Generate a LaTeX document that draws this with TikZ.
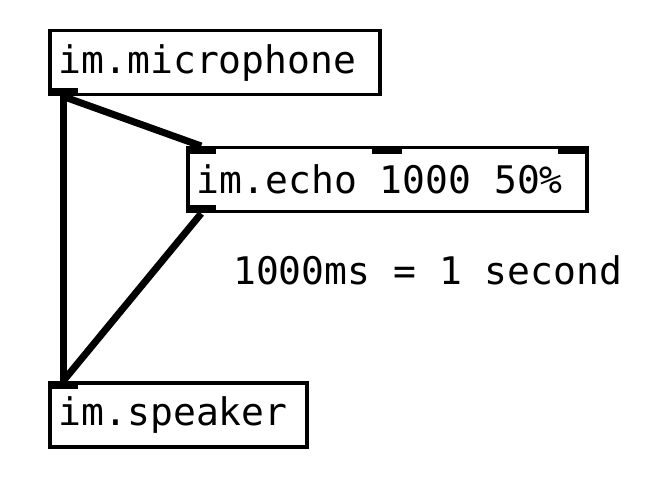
\documentclass[tikz,border=0pt]{standalone}
\usepackage{fontspec}
\setmonofont{DejaVu Sans Mono}
\usetikzlibrary{positioning,calc}
\tikzset{
 obj/.style={draw, line width=3.5pt, anchor=north west, minimum height=64pt,
  inner xsep=9pt, inner ysep=0pt, font=\ttfamily\fontsize{38}{44}\selectfont},
 iolet/.style={fill, inner sep=0pt, minimum width=30pt, minimum height=8pt},
 wire/.style={line width=7pt}
}

\begin{document}
\begin{tikzpicture}[x=1pt, y=-1pt]
 \useasboundingbox (0,0) rectangle (664,486);
 \node[obj] (mic) at (48,29) {\makebox[312pt][l]{im.microphone}};
 \node[obj] (echo) at (186,146) {\makebox[381pt][l]{im.echo 1000 50\%}};
 \node[obj] (spk) at (48,381) {\makebox[239pt][l]{im.speaker}};
 \node[anchor=west, inner sep=0pt, font=\ttfamily\fontsize{38}{44}\selectfont] (note) at (233,270) {1000ms = 1 second};
 % inlets and outlets
 \node[iolet, anchor=south west] (micout) at (mic.south west) {};
 \node[iolet, anchor=north west] (echoin1) at (echo.north west) {};
 \node[iolet, anchor=north] (echoin2) at ($(echo.north west)+(201,0)$) {};
 \node[iolet, anchor=north east] (echoin3) at (echo.north east) {};
 \node[iolet, anchor=south west] (echoout) at (echo.south west) {};
 \node[iolet, anchor=north west] (spkin) at (spk.north west) {};
 % wires
 \draw[wire] (micout.south) -- (spkin.north);
 \draw[wire] (micout.south) -- (echoin1.north);
 \draw[wire] (echoout.south) -- (spkin.north);
\end{tikzpicture}
\end{document}
